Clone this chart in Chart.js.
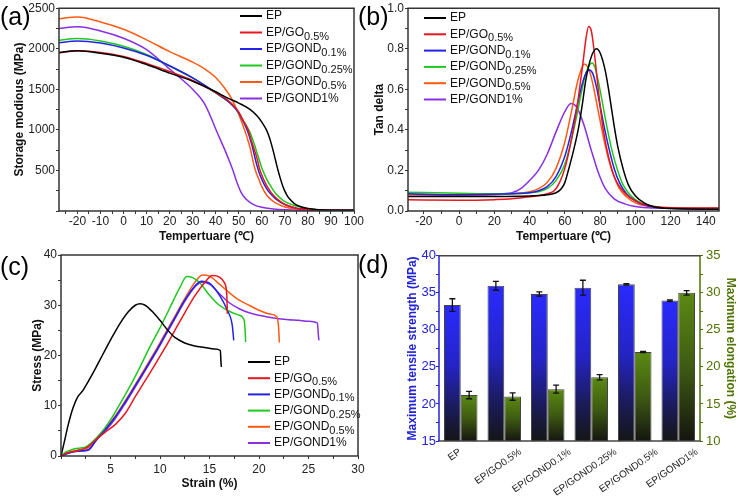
<!DOCTYPE html>
<html>
<head>
<meta charset="utf-8">
<title>EP / GOND composites</title>
<script src="https://cdn.jsdelivr.net/npm/chart.js@4.4.1/dist/chart.umd.min.js"></script>
<style>
  body { margin: 0; background: #fff; }
  #wrap { position: relative; width: 738px; height: 497px; overflow: hidden; font-family: 'Liberation Sans', Arial, sans-serif; }
  .panel { position: absolute; }
  .tag { position: absolute; font-size: 25px; line-height: 25px; color: #000; }
</style>
</head>
<body>
<div id="wrap">
  <canvas id="chartA" class="panel" width="369" height="245" style="left:0;top:0"></canvas>
  <canvas id="chartB" class="panel" width="369" height="245" style="left:369px;top:0"></canvas>
  <canvas id="chartC" class="panel" width="369" height="252" style="left:0;top:245px"></canvas>
  <canvas id="chartD" class="panel" width="369" height="252" style="left:369px;top:245px"></canvas>
  <span class="tag" style="left:0;top:4px">(a)</span>
  <span class="tag" style="left:358px;top:4px">(b)</span>
  <span class="tag" style="left:0;top:254px">(c)</span>
  <span class="tag" style="left:358px;top:252px">(d)</span>
</div>
<script>
// Series names and colours (shared by panels a, b, c)
const seriesNames = ['EP', 'EP/GO0.5%', 'EP/GOND0.1%', 'EP/GOND0.25%', 'EP/GOND0.5%', 'EP/GOND1%'];
const seriesColors = ['#000000', '#e8161e', '#2222e8', '#1ec81e', '#ff5a14', '#8a2ee6'];

// (a) Storage modulus (MPa) vs temperature (°C), [T, E']
const modEP = [[-28,1955],[-20,1975],[-10,1945],[0,1895],[10,1805],[20,1700],[30,1600],[40,1470],[45,1395],[50,1330],[55,1250],[58,1170],[60,1095],[62,1000],[63,930],[64,840],[65,735],[66,620],[67,505],[68,405],[69,315],[70,245],[71,190],[72,150],[74,95],[76,62],[80,30],[85,15],[90,10],[100,8]];
const modGO = [[-28,1950],[-20,1975],[-10,1955],[0,1905],[10,1820],[20,1720],[30,1610],[40,1460],[45,1370],[48,1290],[50,1220],[52,1110],[54,1000],[56,820],[58,640],[59,520],[60,440],[62,320],[64,230],[65,195],[67,140],[70,80],[75,35],[80,18],[90,10],[100,8]];
const modG01 = [[-28,2075],[-20,2095],[-10,2070],[0,2010],[10,1920],[20,1790],[30,1640],[40,1460],[45,1360],[48,1280],[50,1210],[52,1100],[53,1040],[54,970],[55,880],[56,780],[57,660],[58,550],[59,460],[60,390],[62,280],[64,205],[66,150],[70,80],[75,35],[80,18],[90,10],[100,8]];
const modG025 = [[-28,2105],[-20,2125],[-10,2095],[0,2030],[10,1930],[20,1785],[30,1640],[40,1455],[45,1360],[48,1290],[50,1205],[52,1110],[54,1020],[55,960],[56,885],[57,800],[58,710],[59,620],[60,530],[62,400],[64,300],[66,215],[68,160],[70,115],[75,60],[80,28],[90,10],[100,8]];
const modG05 = [[-28,2370],[-20,2390],[-10,2330],[0,2240],[10,2110],[20,1965],[30,1835],[35,1755],[40,1645],[44,1510],[47,1380],[50,1190],[52,1040],[53,960],[54,870],[55,770],[56,640],[57,520],[58,440],[59,370],[60,300],[62,200],[64,140],[66,100],[70,50],[75,25],[80,15],[90,8],[100,8]];
const modG1 = [[-28,2250],[-20,2270],[-10,2220],[0,2130],[10,1990],[18,1800],[20,1750],[25,1630],[30,1500],[35,1330],[38,1150],[40,1010],[42,880],[44,750],[46,610],[47.5,500],[49,370],[51,230],[53,150],[56,85],[60,45],[65,25],[70,15],[80,10],[100,8]];

// (b) Tan delta vs temperature, [T, tan d]
const tdEP = [[-30,0.072],[0,0.072],[20,0.072],[40,0.074],[45,0.076],[50,0.08],[55,0.09],[58,0.11],[60,0.14],[62,0.2],[65,0.3],[68,0.42],[70,0.53],[72,0.65],[75,0.76],[78,0.8],[80,0.78],[83,0.69],[85,0.59],[88,0.42],[90,0.32],[93,0.21],[96,0.13],[100,0.075],[105,0.04],[110,0.022],[120,0.012],[150,0.008]];
const tdGO = [[-30,0.055],[0,0.053],[20,0.056],[30,0.06],[40,0.07],[45,0.075],[50,0.085],[54,0.1],[57,0.14],[60,0.21],[63,0.32],[66,0.46],[68,0.58],[70,0.71],[72,0.85],[73.5,0.91],[75,0.89],[76.5,0.8],[78,0.68],[80,0.52],[82,0.39],[85,0.26],[88,0.17],[91,0.12],[95,0.08],[100,0.05],[107,0.028],[115,0.018],[130,0.015],[150,0.015]];
const tdG01 = [[-30,0.085],[0,0.08],[20,0.082],[30,0.085],[40,0.09],[45,0.1],[50,0.12],[55,0.17],[60,0.27],[64,0.4],[67,0.52],[70,0.63],[72,0.68],[74,0.695],[76,0.675],[78,0.61],[80,0.52],[82,0.43],[85,0.31],[88,0.21],[91,0.14],[95,0.085],[100,0.05],[105,0.03],[110,0.02],[120,0.013],[150,0.01]];
const tdG025 = [[-30,0.093],[0,0.088],[20,0.085],[30,0.086],[40,0.09],[45,0.095],[50,0.11],[55,0.15],[60,0.23],[64,0.36],[67,0.48],[70,0.61],[72,0.68],[74,0.72],[75.5,0.73],[77,0.71],[79,0.64],[81,0.55],[84,0.41],[87,0.29],[90,0.2],[93,0.13],[97,0.08],[102,0.045],[108,0.025],[120,0.015],[150,0.012]];
const tdG05 = [[-30,0.08],[0,0.078],[20,0.08],[30,0.085],[40,0.095],[45,0.11],[50,0.14],[55,0.21],[60,0.34],[64,0.5],[67,0.63],[69,0.69],[71,0.725],[73,0.71],[75,0.66],[77,0.58],[79,0.49],[82,0.36],[85,0.25],[88,0.17],[91,0.11],[95,0.07],[100,0.04],[108,0.022],[120,0.014],[150,0.012]];
const tdG1 = [[-30,0.083],[0,0.08],[20,0.083],[30,0.09],[35,0.11],[40,0.15],[45,0.2],[50,0.28],[55,0.39],[60,0.49],[63.5,0.53],[66,0.52],[68,0.49],[71,0.42],[75,0.3],[79,0.19],[83,0.11],[88,0.06],[94,0.035],[100,0.022],[110,0.015],[150,0.012]];

// (c) Stress (MPa) vs strain (%), [strain, stress]
const ssEP = [[0,0],[0.3,2.5],[0.7,6],[1.2,9.5],[1.7,11.8],[2.2,13],[2.8,15],[3.5,17.5],[4.3,20.5],[5.2,23.8],[6,26.5],[6.8,28.7],[7.5,30],[8,30.3],[8.5,30],[9.2,28.8],[10,27],[10.8,25],[11.5,23.6],[12.5,22.5],[13.5,21.9],[14.5,21.6],[15.5,21.3],[16.1,21],[16.15,19],[16.2,17.7]];
const ssGO = [[0,0],[0.5,0.5],[1,0.8],[2,1.2],[2.7,1.8],[3.5,3.2],[4.5,4.8],[5.5,6.3],[6.5,8.5],[7.5,11.8],[8.5,15],[9.5,18.2],[10.5,21.5],[11.5,25],[12.5,28.5],[13.5,31.8],[14.5,34.5],[15.3,35.9],[16,35.6],[16.5,34.5],[16.75,32],[16.8,28.3]];
const ssG01 = [[0,0],[1,0.7],[2,1],[2.8,1.3],[3.5,3],[4.5,5.3],[5.5,7.8],[6.5,10.8],[7.5,14],[8.5,17.2],[9.5,20.5],[10.5,24],[11.5,27.5],[12.5,31],[13.5,33.8],[14.2,34.8],[15,34.4],[16,32],[16.8,29],[17.3,26],[17.45,23]];
const ssG025 = [[0,0],[0.5,0.8],[1,1.2],[1.5,1.5],[2,1.6],[2.5,1.8],[3,2.5],[4,4.5],[5,7.2],[6,10.5],[7,14],[8,17.8],[9,21.8],[10,25.5],[11,29.5],[12,33.5],[12.7,35.7],[13.3,35.5],[14,34.5],[15,32],[16,30],[17,28.8],[18,28],[18.5,27],[18.6,25],[18.65,22.7]];
const ssG05 = [[0,0],[1,0.9],[2,1.3],[2.8,1.7],[3.5,3.4],[4.5,5.5],[5.5,8],[6.5,11],[7.5,14.2],[8.5,17.5],[9.5,20.8],[10.5,24.3],[11.5,27.8],[12.5,31.3],[13.5,34.5],[14.3,36],[15,35.8],[16,34.2],[17,32.5],[18,31],[19,30],[20,29],[21,28.3],[21.8,27.7],[22,25],[22.05,22.6]];
const ssG1 = [[0,0],[1,0.8],[2,1],[2.8,1.2],[3.5,3],[4.5,5],[5.5,7.5],[6.5,10.5],[7.5,13.7],[8.5,17],[9.5,20.3],[10.5,23.8],[11.5,27.3],[12.5,30.8],[13.5,33.6],[14.2,34.6],[15,34.2],[16,32.3],[17,30.5],[18,29.3],[19,28.5],[20,28],[21,27.6],[22,27.3],[23,27.1],[24,27],[25,26.8],[25.9,26.5],[26,24],[26.05,23]];

// (d) Tensile strength and elongation with error bars
const barLabels = ['EP', 'EP/GO0.5%', 'EP/GOND0.1%', 'EP/GOND0.25%', 'EP/GOND0.5%', 'EP/GOND1%'];
const strength = [33.35, 35.95, 34.85, 35.7, 36.15, 33.95];
const strengthErr = [0.85, 0.6, 0.28, 1.0, 0.1, 0.1];
const elongation = [16.2, 16.0, 17.0, 18.6, 22.0, 30.0];
const elongationErr = [0.5, 0.5, 0.55, 0.35, 0.08, 0.3];

const FONT = "'Liberation Sans', Arial, sans-serif";
Chart.defaults.font.family = FONT;
Chart.defaults.font.size = 12;
Chart.defaults.color = '#222';
Chart.defaults.animation = false;
Chart.defaults.responsive = false;

// Box round the plot area, each side with its own colour
const frame = {
  id: 'frame',
  afterDatasetsDraw(chart, args, opts) {
    const { ctx, chartArea: a } = chart;
    const side = (col, x1, y1, x2, y2) => {
      ctx.strokeStyle = col;
      ctx.beginPath();
      ctx.moveTo(x1, y1);
      ctx.lineTo(x2, y2);
      ctx.stroke();
    };
    ctx.save();
    ctx.lineWidth = 1.5;
    side(opts.top || '#333', a.left - 0.75, a.top, a.right + 0.75, a.top);
    side(opts.bottom || '#333', a.left - 0.75, a.bottom, a.right + 0.75, a.bottom);
    side(opts.left || '#333', a.left, a.top, a.left, a.bottom);
    side(opts.right || '#333', a.right, a.top, a.right, a.bottom);
    ctx.restore();
  }
};

// Legend with subscript concentrations (EP/GOND0.25% -> EP/GOND + lowered 0.25%)
const subLegend = {
  id: 'subLegend',
  afterDraw(chart, args, opts) {
    if (!opts.x) return;
    const ctx = chart.ctx;
    ctx.save();
    ctx.textBaseline = 'middle';
    chart.data.datasets.forEach((ds, i) => {
      const y = opts.y + i * opts.step;
      ctx.strokeStyle = ds.borderColor;
      ctx.lineWidth = 2;
      ctx.beginPath();
      ctx.moveTo(opts.x, y);
      ctx.lineTo(opts.x + 22, y);
      ctx.stroke();
      const m = ds.label.match(/^(.*?)(0\.\d+%)$/);
      const main = m ? m[1] : ds.label;
      ctx.fillStyle = '#111';
      ctx.font = '12px ' + FONT;
      ctx.fillText(main, opts.x + 26, y);
      if (m) {
        const w = ctx.measureText(main).width;
        ctx.font = '11px ' + FONT;
        ctx.fillText(m[2], opts.x + 26 + w, y + 4);
      }
    });
    ctx.restore();
  }
};

// Error bars for the bar panel, placed through each dataset's own y scale
const errorBars = {
  id: 'errorBars',
  afterDatasetsDraw(chart) {
    const ctx = chart.ctx;
    ctx.save();
    ctx.strokeStyle = '#111';
    ctx.lineWidth = 1.3;
    chart.data.datasets.forEach((ds, i) => {
      const meta = chart.getDatasetMeta(i);
      const scale = chart.scales[meta.yAxisID];
      meta.data.forEach((bar, j) => {
        const y1 = scale.getPixelForValue(ds.data[j] + ds.errors[j]);
        const y2 = scale.getPixelForValue(ds.data[j] - ds.errors[j]);
        ctx.beginPath();
        ctx.moveTo(bar.x, y1); ctx.lineTo(bar.x, y2);
        ctx.moveTo(bar.x - 3, y1); ctx.lineTo(bar.x + 3, y1);
        ctx.moveTo(bar.x - 3, y2); ctx.lineTo(bar.x + 3, y2);
        ctx.stroke();
      });
    });
    ctx.restore();
  }
};

// Slanted category names: each one is centred a little left of its bar pair,
// with its upper end on a common line just under the axis (like the original)
const slantLabels = {
  id: 'slantLabels',
  afterDraw(chart) {
    const { ctx, chartArea: a } = chart;
    const scale = chart.scales.x;
    const ang = 35 * Math.PI / 180;
    ctx.save();
    ctx.font = '10px ' + FONT;
    ctx.fillStyle = '#222';
    ctx.textAlign = 'right';
    ctx.textBaseline = 'middle';
    chart.data.labels.forEach((name, i) => {
      const w = ctx.measureText(name).width;
      const x = scale.getPixelForTick(i) + w / 2 * Math.cos(ang) - 6;
      ctx.save();
      ctx.translate(x, a.bottom + 10);
      ctx.rotate(-ang);
      ctx.fillText(name, 0, 0);
      ctx.restore();
    });
    ctx.restore();
  }
};

function lineSets(series) {
  return series.map((pts, i) => ({
    label: seriesNames[i],
    data: pts.map(p => ({ x: p[0], y: p[1] })),
    borderColor: seriesColors[i],
    borderWidth: 1.5,
    pointRadius: 0,
    cubicInterpolationMode: 'monotone',
    fill: false
  }));
}

function axis(o) {
  return {
    type: 'linear',
    position: o.position,
    min: o.min,
    max: o.max,
    grid: { display: true, drawOnChartArea: false, tickLength: 3, color: o.color || '#333' },
    border: { display: false },
    ticks: {
      stepSize: o.step,
      includeBounds: false,
      autoSkip: false,
      maxRotation: 0,
      padding: o.pad === undefined ? 3 : o.pad,
      color: o.color || '#222',
      font: { size: o.size || 12 },
      callback: o.label
    },
    title: {
      display: true,
      text: o.title,
      color: o.titleColor || '#111',
      font: { size: 12, weight: 'bold' },
      padding: o.titlePad
    },
    afterFit: s => {
      if (o.width) s.width = o.width;
      if (o.height) s.height = o.height;
    }
  };
}

function lineChart(id, series, c) {
  return new Chart(document.getElementById(id), {
    type: 'line',
    data: { datasets: lineSets(series) },
    plugins: [frame, subLegend],
    options: {
      layout: { padding: c.padding },
      plugins: { legend: { display: false }, tooltip: { enabled: false }, subLegend: c.legend },
      scales: { x: c.x, y: c.y }
    }
  });
}

// (a)
lineChart('chartA', [modEP, modGO, modG01, modG025, modG05, modG1], {
  padding: { top: 6, right: 15, left: 0, bottom: 0 },
  legend: { x: 240, y: 16, step: 16.5 },
  x: axis({ position: 'bottom', min: -28, max: 100, step: 5, height: 34, pad: 0, title: 'Tempertuare (\u2103)',
    titlePad: { bottom: 1 }, label: v => (v % 10 === 0 ? v : '') }),
  y: axis({ position: 'left', min: 0, max: 2500, step: 250, width: 59, pad: 1, title: 'Storage modious (MPa)',
    titlePad: { top: 12 }, label: v => (v % 500 === 0 && v > 0 ? v : '') })
});

// (b)
lineChart('chartB', [tdEP, tdGO, tdG01, tdG025, tdG05, tdG1], {
  padding: { top: 6, right: 19, left: 0, bottom: 0 },
  legend: { x: 55, y: 18, step: 16.3 },
  x: axis({ position: 'bottom', min: -29, max: 147.5, step: 10, height: 34, pad: 0, title: 'Tempertuare (\u2103)',
    titlePad: { bottom: 1 }, label: v => (v % 20 === 0 ? v : '') }),
  y: axis({ position: 'left', min: 0, max: 1, step: 0.1, width: 39, pad: 1, title: 'Tan delta',
    titlePad: { top: 3 }, label: v => (Math.round(v * 10) % 2 === 0 ? v.toFixed(1) : '') })
});

// (c)
lineChart('chartC', [ssEP, ssGO, ssG01, ssG025, ssG05, ssG1], {
  padding: { top: 10, right: 11, left: 0, bottom: 0 },
  legend: { x: 248, y: 117, step: 16.2 },
  x: axis({ position: 'bottom', min: 0, max: 30, step: 2.5, height: 41, title: 'Strain (%)',
    titlePad: { bottom: 6 }, label: v => (v % 5 === 0 && v > 0 ? v : '') }),
  y: axis({ position: 'left', min: 0, max: 40, step: 5, width: 61, pad: 1, title: 'Stress (MPa)',
    titlePad: { top: 30 }, label: v => (v % 10 === 0 ? v : '') })
});

// (d)
const BLUE = '#2222d8';
const OLIVE = '#4f7300';

function barGradient(axisId, stops, fallback) {
  return c => {
    const chart = c.chart;
    const area = chart.chartArea;
    if (!area || c.type !== 'data') return fallback;
    const top = chart.scales[axisId].getPixelForValue(c.raw);
    const g = chart.ctx.createLinearGradient(0, top, 0, area.bottom);
    stops.forEach(s => g.addColorStop(s[0], s[1]));
    return g;
  };
}

const yLeft = axis({ position: 'left', min: 15, max: 40, step: 2.5, width: 70, pad: 0, size: 13, color: BLUE,
  titleColor: BLUE, title: 'Maximum tensile strength (MPa)', titlePad: { top: 36 }, label: v => (v % 5 === 0 ? v : '') });
const yRight = axis({ position: 'right', min: 10, max: 35, step: 2.5, width: 38, size: 13, color: OLIVE,
  titleColor: OLIVE, title: 'Maximum elongation (%)', titlePad: { top: 0 }, label: v => (v % 5 === 0 ? v : '') });

new Chart(document.getElementById('chartD'), {
  type: 'bar',
  data: {
    labels: barLabels,
    datasets: [
      {
        label: 'Maximum tensile strength',
        data: strength,
        errors: strengthErr,
        yAxisID: 'yL',
        backgroundColor: barGradient('yL', [[0, '#2a2aff'], [0.45, '#2424c4'], [0.75, '#1b1b5c'], [1, '#151515']], BLUE),
        borderColor: '#444',
        borderWidth: 1,
        categoryPercentage: 0.77,
        barPercentage: 1
      },
      {
        label: 'Maximum elongation',
        data: elongation,
        errors: elongationErr,
        yAxisID: 'yR',
        backgroundColor: barGradient('yR', [[0, '#5b8a12'], [0.5, '#3e5a12'], [1, '#151510']], OLIVE),
        borderColor: '#444',
        borderWidth: 1,
        categoryPercentage: 0.77,
        barPercentage: 1
      }
    ]
  },
  plugins: [errorBars, frame, slantLabels],
  options: {
    layout: { padding: { top: 5, right: 0, left: 0, bottom: 0 } },
    plugins: {
      legend: { display: false },
      tooltip: { enabled: false },
      frame: { left: BLUE, right: OLIVE, top: '#444', bottom: '#444' }
    },
    scales: {
      x: {
        offset: true,
        grid: { display: false },
        border: { display: false },
        ticks: { display: false },
        afterFit: s => { s.height = 56; }
      },
      yL: yLeft,
      yR: yRight
    }
  }
});
</script>
</body>
</html>
